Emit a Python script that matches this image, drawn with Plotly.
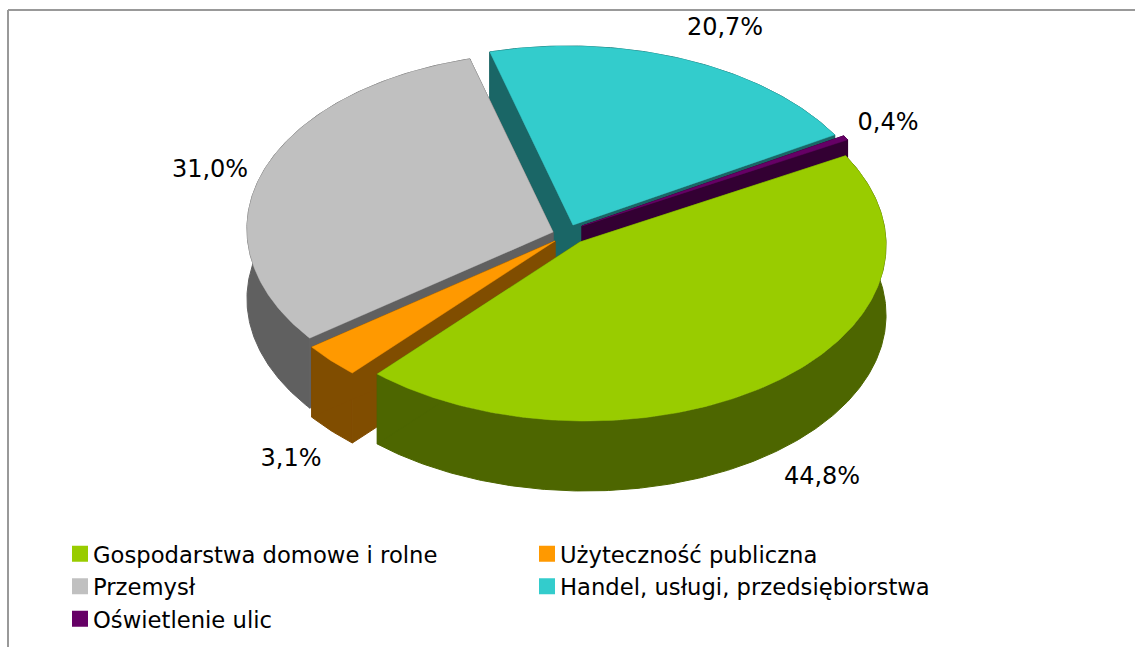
import math
import plotly.graph_objects as go

categories = ["Gospodarstwa domowe i rolne", "Użyteczność publiczna", "Przemysł",
              "Handel, usługi, przedsiębiorstwa", "Oświetlenie ulic"]
shares = [44.8, 3.1, 31.0, 20.7, 0.4]

top_colors = ["#99CC00", "#FF9900", "#C0C0C0", "#33CCCC", "#660066"]
side_colors = ["#4D6600", "#804D00", "#606060", "#1A6666", "#330033"]
# Pie layout on a pixel-sized canvas: apex of each exploded slice, label anchor
apex_x = [580, 555, 553, 573, 582]
apex_y = [242, 241, 232, 225, 226]
label_x = [822, 291, 210, 725, 888]
label_y = [478, 460, 171, 29, 124]
draw_order = [3, 4, 2, 1, 0]
RX, RY, DEPTH, SHEAR = 306, 179, 70, 0.03
START = 28.8
FONT = "DejaVu Sans, Tahoma, sans-serif"
W, H = 1135, 647

total = sum(shares)
bounds = [START]
for s in shares:
    bounds.append(bounds[-1] - s / total * 360)


def rim(i):
    a0, a1 = bounds[i], bounds[i + 1]
    n = max(4, int(abs(a1 - a0) * 1.5))
    xs, ys = [], []
    for k in range(n + 1):
        a = math.radians(a0 + (a1 - a0) * k / n)
        dy = -RY * math.sin(a)
        xs.append(apex_x[i] + RX * math.cos(a) + SHEAR * dy)
        ys.append(apex_y[i] + dy)
    return xs, ys


def face(px, py, color, lw=0.5):
    return go.Scatter(x=px + px[:1], y=py + py[:1], mode="lines", fill="toself", fillcolor=color,
                      line=dict(color=color, width=lw), showlegend=False, hoverinfo="skip")


fig = go.Figure()
for i in draw_order:
    xs, ys = rim(i)
    ax, ay = apex_x[i], apex_y[i]
    # side faces: outer rim plus the two radial cuts, extruded downward
    fig.add_trace(face(xs + xs[::-1], ys + [y + DEPTH for y in ys[::-1]], side_colors[i], 1))
    for ex, ey in ((xs[0], ys[0]), (xs[-1], ys[-1])):
        fig.add_trace(face([ax, ex, ex, ax], [ay, ey, ey + DEPTH, ay + DEPTH], side_colors[i], 1))
    fig.add_trace(face([ax] + xs, [ay] + ys, top_colors[i]))

for i, name in enumerate(categories):
    fig.add_trace(go.Scatter(x=[None], y=[None], mode="markers", name=name,
                             marker=dict(symbol="square", size=16, color=top_colors[i])))

fig.add_trace(go.Scatter(x=label_x, y=label_y, mode="text",
                         text=[f"{s:.1f}".replace(".", ",") + "%" for s in shares],
                         textfont=dict(family=FONT, size=24, color="#000000"),
                         textposition="middle center", showlegend=False, hoverinfo="skip"))

for x0, y0, x1, y1 in ((8, 10, W, 10), (8, 10, 8, H)):
    fig.add_shape(type="line", x0=x0, y0=y0, x1=x1, y1=y1, line=dict(color="#999999", width=2), layer="below")

fig.update_layout(
    width=W, height=H, autosize=False, margin=dict(l=0, r=0, t=0, b=0),
    paper_bgcolor="white", plot_bgcolor="white",
    xaxis=dict(range=[0, W], visible=False, fixedrange=True),
    yaxis=dict(range=[H, 0], visible=False, fixedrange=True),
    legend=dict(orientation="h", x=53 / W, xanchor="left", y=1 - 532.5 / H, yanchor="top",
                entrywidth=422, entrywidthmode="pixels", traceorder="normal",
                font=dict(family=FONT, size=22.7, color="#000000"), bgcolor="rgba(0,0,0,0)"),
)

nudge = ("document.body.style.margin='0';"
         "setTimeout(function(){document.querySelectorAll('.legendsymbols')"
         ".forEach(function(g){g.setAttribute('transform','translate(7,0)');});},50);")
fig.write_html("out.html", post_script=nudge, config={"displayModeBar": False})
